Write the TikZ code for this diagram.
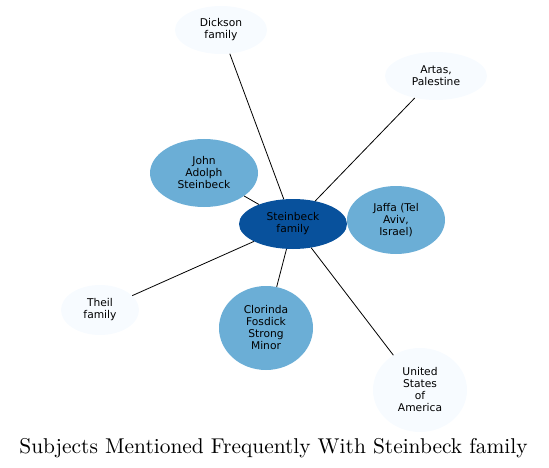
\documentclass[tikz,border=0pt]{standalone}
\usepackage{fontspec}
\newfontfamily\nodefont{DejaVu Sans}
\newfontfamily\titlefont{lmroman10-regular.otf}
\usetikzlibrary{shapes.geometric}
\definecolor{dark}{HTML}{08519C}
\definecolor{mid}{HTML}{6BAED6}
\definecolor{pale}{HTML}{F7FBFF}
\tikzset{
  ent/.style={ellipse, inner sep=0pt, align=center, font=\nodefont\fontsize{10.7}{12}\selectfont, text=black},
  hub/.style={ent, fill=dark},
  near/.style={ent, fill=mid},
  far/.style={ent, fill=pale},
  link/.style={draw=black, line width=0.8pt}
}
\begin{document}
\begin{tikzpicture}[x=1pt,y=-1pt]
\useasboundingbox (0,0) rectangle (549,468);
\node[hub, minimum width=108pt, minimum height=50pt] (st) at (293,224) {Steinbeck\\family};
\node[far, minimum width=92pt, minimum height=48pt] (di) at (221,30) {Dickson\\family};
\node[far, minimum width=102pt, minimum height=48pt] (ar) at (436,76) {Artas,\\Palestine};
\node[near, minimum width=108pt, minimum height=68pt] (jo) at (204,173) {John\\Adolph\\Steinbeck};
\node[near, minimum width=98pt, minimum height=68pt] (ja) at (396,220) {Jaffa (Tel\\Aviv,\\Israel)};
\node[far, minimum width=78pt, minimum height=50pt] (th) at (100,310) {Theil\\family};
\node[near, minimum width=94pt, minimum height=84pt] (cl) at (266,328) {Clorinda\\Fosdick\\Strong\\Minor};
\node[far, minimum width=94pt, minimum height=84pt] (us) at (420,390) {United\\States\\of\\America};
\draw[link] (st) -- (di);
\draw[link] (st) -- (ar);
\draw[link] (st) -- (jo);
\draw[link] (st) -- (ja);
\draw[link] (st) -- (th);
\draw[link] (st) -- (cl);
\draw[link] (st) -- (us);
\node[font=\titlefont\fontsize{21.4}{24}\selectfont, inner sep=0pt, anchor=base] (title) at (273.5,453) {Subjects Mentioned Frequently With Steinbeck family};
\end{tikzpicture}
\end{document}
